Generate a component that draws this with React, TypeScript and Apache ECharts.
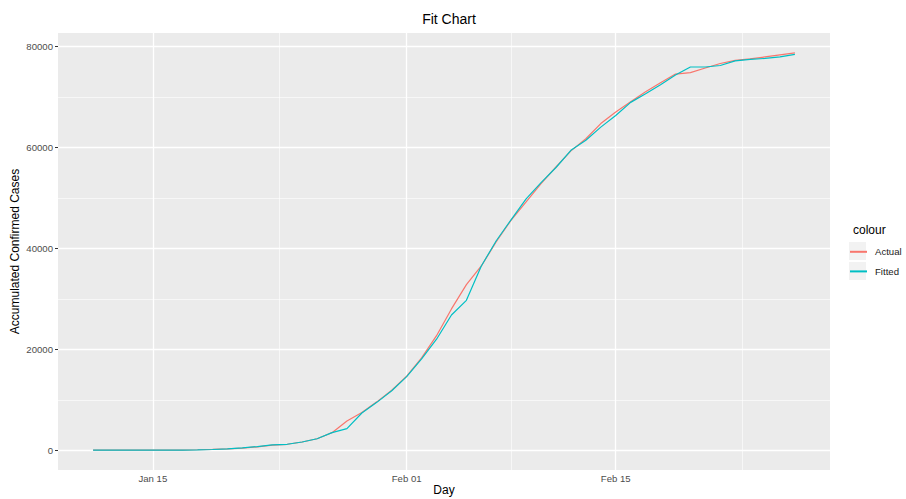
import React, { useEffect, useRef } from 'react';
import * as echarts from 'echarts';

const dates = [
  '2020-01-11', '2020-01-12', '2020-01-13', '2020-01-14', '2020-01-15', '2020-01-16',
  '2020-01-17', '2020-01-18', '2020-01-19', '2020-01-20', '2020-01-21', '2020-01-22',
  '2020-01-23', '2020-01-24', '2020-01-25', '2020-01-26', '2020-01-27', '2020-01-28',
  '2020-01-29', '2020-01-30', '2020-01-31', '2020-02-01', '2020-02-02', '2020-02-03',
  '2020-02-04', '2020-02-05', '2020-02-06', '2020-02-07', '2020-02-08', '2020-02-09',
  '2020-02-10', '2020-02-11', '2020-02-12', '2020-02-13', '2020-02-14', '2020-02-15',
  '2020-02-16', '2020-02-17', '2020-02-18', '2020-02-19', '2020-02-20', '2020-02-21',
  '2020-02-22', '2020-02-23', '2020-02-24', '2020-02-25', '2020-02-26', '2020-02-27',
];

const actual = [
  41, 41, 41, 41, 41, 45,
  62, 121, 198, 291, 440, 700,
  1050, 1200, 1650, 2300, 3500, 5800,
  7500, 9600, 11900, 14700, 18300, 22700,
  28000, 32800, 36500, 41300, 45600, 49200,
  52800, 56100, 59300, 61700, 64700, 67000,
  69000, 71000, 72800, 74500, 74800, 75700,
  76600, 77200, 77500, 77900, 78300, 78700,
];

const fitted = [
  40, 41, 42, 43, 45, 50,
  60, 90, 170, 300, 480, 750,
  1100, 1200, 1650, 2300, 3500, 4300,
  7400, 9500, 11800, 14600, 18100, 22000,
  26800, 29700, 36500, 41500, 45700, 49800,
  53000, 56000, 59400, 61400, 64000, 66300,
  68900, 70600, 72400, 74300, 75900, 75900,
  76200, 77100, 77400, 77600, 77900, 78400,
];

const yTicks = [0, 20000, 40000, 60000, 80000];
const yMinorGrid = [10000, 30000, 50000, 70000];
const xTickDates = ['2020-01-15', '2020-02-01', '2020-02-15'];
const xMinorGridDates = ['2020-01-23T12', '2020-02-08', '2020-02-23T12'];

const MONTHS = ['Jan', 'Feb', 'Mar', 'Apr', 'May', 'Jun', 'Jul', 'Aug', 'Sep', 'Oct', 'Nov', 'Dec'];
const FONT = '"Liberation Sans", Arial, Helvetica, sans-serif';

function toTs(s: string): number {
  const [d, h] = s.split('T');
  const [y, m, dd] = d.split('-').map(Number);
  return Date.UTC(y, m - 1, dd, h ? Number(h) : 0);
}

export default function App() {
  const ref = useRef<HTMLDivElement>(null);

  useEffect(() => {
    if (!ref.current) return;
    const chart = echarts.init(ref.current, null, { renderer: 'svg' });

    const xs = dates.map(toTs);
    const xRange = xs[xs.length - 1] - xs[0];
    const xMin = xs[0] - 0.05 * xRange;
    const xMax = xs[xs.length - 1] + 0.05 * xRange;
    const all = actual.concat(fitted);
    const yLo = Math.min(...all);
    const yHi = Math.max(...all);
    const yMin = yLo - 0.05 * (yHi - yLo);
    const yMax = yHi + 0.05 * (yHi - yLo);

    const majorW = 1.3;
    const minorW = 0.6;
    const gridLines: any[] = [];
    yTicks.forEach((v) => gridLines.push({ yAxis: v, lineStyle: { width: majorW } }));
    yMinorGrid.forEach((v) => gridLines.push({ yAxis: v, lineStyle: { width: minorW } }));
    xTickDates.forEach((d) => gridLines.push({ xAxis: toTs(d), lineStyle: { width: majorW } }));
    xMinorGridDates.forEach((d) => gridLines.push({ xAxis: toTs(d), lineStyle: { width: minorW } }));

    const option: any = {
      animation: false,
      backgroundColor: '#ffffff',
      textStyle: { fontFamily: FONT },
      title: [
        {
          text: 'Fit Chart',
          left: 444,
          top: 7,
          textAlign: 'center',
          textStyle: { fontSize: 14, fontWeight: 'normal', color: '#000000', fontFamily: FONT },
        },
        {
          text: 'colour',
          left: 848,
          top: 219,
          textStyle: { fontSize: 12, fontWeight: 'normal', color: '#000000', fontFamily: FONT },
        },
      ],
      legend: {
        data: ['Actual', 'Fitted'],
        orient: 'vertical',
        left: 849,
        top: 245,
        padding: 0,
        itemWidth: 17,
        itemHeight: 17,
        itemGap: 6,
        itemStyle: { opacity: 0, color: 'transparent', borderWidth: 0 },
        textStyle: { fontSize: 9.6, color: '#1a1a1a', fontFamily: FONT, padding: [0, 0, 0, 3] },
      },
      graphic: [
        { type: 'rect', shape: { x: 849, y: 242, width: 17, height: 18 }, style: { fill: '#F2F2F2' }, z: -1, silent: true },
        { type: 'rect', shape: { x: 849, y: 262, width: 17, height: 18 }, style: { fill: '#F2F2F2' }, z: -1, silent: true },
      ],
      grid: {
        left: 58,
        right: 76,
        top: 33,
        bottom: 29,
        show: true,
        backgroundColor: '#EBEBEB',
        borderWidth: 0,
        containLabel: false,
        outerBoundsMode: 'none',
      },
      xAxis: {
        type: 'value',
        min: xMin,
        max: xMax,
        name: 'Day',
        nameLocation: 'middle',
        nameGap: 14,
        nameMoveOverlap: false,
        nameTextStyle: { fontSize: 12, color: '#000000', fontFamily: FONT, verticalAlign: 'top' },
        axisLine: { show: false },
        axisTick: { show: true, length: 3, lineStyle: { color: '#333333', width: 1 }, customValues: xTickDates.map(toTs) },
        axisLabel: {
          customValues: xTickDates.map(toTs),
          margin: 3,
          fontSize: 9.6,
          color: '#4D4D4D',
          fontFamily: FONT,
          formatter: (v: number) => {
            const d = new Date(v);
            return `${MONTHS[d.getUTCMonth()]} ${String(d.getUTCDate()).padStart(2, '0')}`;
          },
        },
        splitLine: { show: false },
      },
      yAxis: {
        type: 'value',
        min: yMin,
        max: yMax,
        name: 'Accumulated Confirmed Cases',
        nameLocation: 'middle',
        nameGap: 37,
        nameMoveOverlap: false,
        nameTextStyle: { fontSize: 12, color: '#000000', fontFamily: FONT },
        axisLine: { show: false },
        axisTick: { show: true, length: 3, lineStyle: { color: '#333333', width: 1 }, customValues: yTicks },
        axisLabel: {
          customValues: yTicks,
          margin: 5,
          fontSize: 9.6,
          color: '#4D4D4D',
          fontFamily: FONT,
          formatter: (v: number) => String(Math.round(v)),
        },
        splitLine: { show: false },
      },
      series: [
        {
          name: 'Actual',
          type: 'line',
          data: xs.map((x, i) => [x, actual[i]]),
          symbol: 'none',
          showSymbol: false,
          lineStyle: { color: '#F8766D', width: 1.2 },
          itemStyle: { color: '#F8766D' },
          z: 3,
          markLine: {
            silent: true,
            z: 1,
            symbol: ['none', 'none'],
            label: { show: false },
            lineStyle: { color: '#FFFFFF', type: 'solid' },
            emphasis: { disabled: true },
            data: gridLines,
          },
        },
        {
          name: 'Fitted',
          type: 'line',
          data: xs.map((x, i) => [x, fitted[i]]),
          symbol: 'none',
          showSymbol: false,
          lineStyle: { color: '#00BFC4', width: 1.2 },
          itemStyle: { color: '#00BFC4' },
          z: 4,
        },
      ],
    };

    chart.setOption(option);
    return () => chart.dispose();
  }, []);

  return (
    <div
      ref={ref}
      style={{ position: 'fixed', left: 0, top: 0, width: 906, height: 499 }}
    />
  );
}
